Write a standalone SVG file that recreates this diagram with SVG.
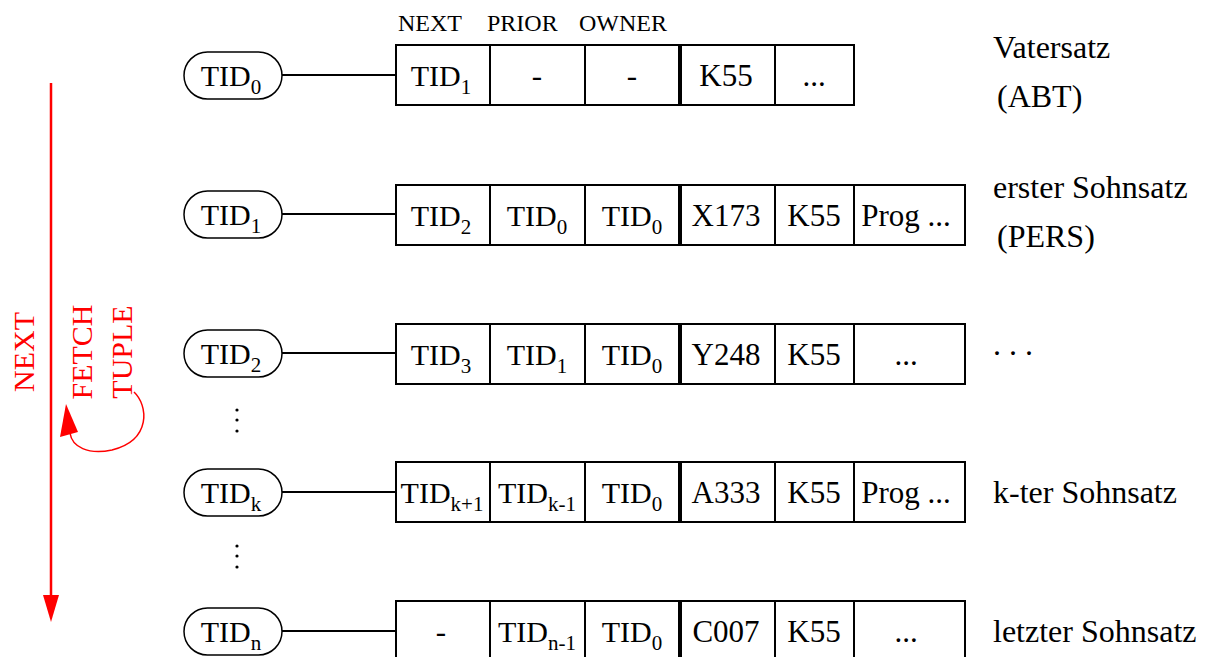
<svg xmlns="http://www.w3.org/2000/svg" width="1208" height="657" viewBox="0 0 1208 657">
<style>
text{font-family:"Liberation Serif","Times New Roman",serif;fill:#000}
.t{font-size:30px;text-anchor:middle}
.c{font-size:31px;text-anchor:middle}
.l{font-size:32px}
.r{font-size:30px;fill:#f00;text-anchor:middle}
.h{font-size:24px}
.s{font-size:21px}
.pill{fill:#fff;stroke:#000;stroke-width:1.5}
.box{fill:#fff;stroke:#000;stroke-width:2}
.div{stroke:#000;stroke-width:2}
.thick{stroke:#000;stroke-width:4}
.con{stroke:#000;stroke-width:2;fill:none}
.red{fill:#f00}
.redl{stroke:#f00;fill:none}
</style>
<rect width="1208" height="657" fill="#fff"/>

<g id="header">
<text class="h" x="398" y="31">NEXT</text>
<text class="h" x="487" y="31">PRIOR</text>
<text class="h" x="579" y="31">OWNER</text>
</g>

<g id="connectors">
<line class="con" x1="282" y1="75" x2="396" y2="75"/>
<line class="con" x1="282" y1="214" x2="396" y2="214"/>
<line class="con" x1="282" y1="353" x2="396" y2="353"/>
<line class="con" x1="282" y1="492" x2="396" y2="492"/>
<line class="con" x1="282" y1="631" x2="396" y2="631"/>
</g>

<g id="pill0"><rect class="pill" x="184" y="52" width="98" height="47" rx="23.5"/><text class="t" x="231" y="86">TID<tspan class="s" dy="8">0</tspan></text></g>
<g id="pill1"><rect class="pill" x="184" y="191" width="98" height="47" rx="23.5"/><text class="t" x="231" y="225">TID<tspan class="s" dy="8">1</tspan></text></g>
<g id="pill2"><rect class="pill" x="184" y="330" width="98" height="47" rx="23.5"/><text class="t" x="231" y="364">TID<tspan class="s" dy="8">2</tspan></text></g>
<g id="pillk"><rect class="pill" x="184" y="469" width="98" height="47" rx="23.5"/><text class="t" x="231" y="503">TID<tspan class="s" dy="8">k</tspan></text></g>
<g id="pilln"><rect class="pill" x="184" y="608" width="98" height="47" rx="23.5"/><text class="t" x="231" y="642">TID<tspan class="s" dy="8">n</tspan></text></g>

<g id="dots1" fill="#000"><circle cx="237" cy="410" r="1.6"/><circle cx="237" cy="420" r="1.6"/><circle cx="237" cy="431" r="1.6"/></g>
<g id="dots2" fill="#000"><circle cx="237" cy="546" r="1.6"/><circle cx="237" cy="556" r="1.6"/><circle cx="237" cy="567" r="1.6"/></g>

<g id="record0">
<rect class="box" x="396" y="45" width="458" height="60"/>
<line class="div" x1="490" y1="45" x2="490" y2="105"/>
<line class="div" x1="585" y1="45" x2="585" y2="105"/>
<line class="thick" x1="680" y1="45" x2="680" y2="106"/>
<line class="div" x1="775" y1="45" x2="775" y2="105"/>
<text class="t" x="441" y="86">TID<tspan class="s" dy="8">1</tspan></text>
<text class="c" x="537" y="86">-</text>
<text class="c" x="632" y="86">-</text>
<text class="c" x="726" y="86">K55</text>
<text class="c" x="814" y="86">...</text>
</g>

<g id="record1">
<rect class="box" x="396" y="185" width="569" height="60"/>
<line class="div" x1="490" y1="185" x2="490" y2="245"/>
<line class="div" x1="585" y1="185" x2="585" y2="245"/>
<line class="thick" x1="680" y1="185" x2="680" y2="246"/>
<line class="div" x1="775" y1="185" x2="775" y2="245"/>
<line class="div" x1="854" y1="185" x2="854" y2="245"/>
<text class="t" x="441" y="226">TID<tspan class="s" dy="8">2</tspan></text>
<text class="t" x="537" y="226">TID<tspan class="s" dy="8">0</tspan></text>
<text class="t" x="632" y="226">TID<tspan class="s" dy="8">0</tspan></text>
<text class="c" x="726" y="226">X173</text>
<text class="c" x="814" y="226">K55</text>
<text class="c" x="906" y="226">Prog ...</text>
</g>

<g id="record2">
<rect class="box" x="396" y="324" width="569" height="60"/>
<line class="div" x1="490" y1="324" x2="490" y2="384"/>
<line class="div" x1="585" y1="324" x2="585" y2="384"/>
<line class="thick" x1="680" y1="324" x2="680" y2="385"/>
<line class="div" x1="775" y1="324" x2="775" y2="384"/>
<line class="div" x1="854" y1="324" x2="854" y2="384"/>
<text class="t" x="441" y="365">TID<tspan class="s" dy="8">3</tspan></text>
<text class="t" x="537" y="365">TID<tspan class="s" dy="8">1</tspan></text>
<text class="t" x="632" y="365">TID<tspan class="s" dy="8">0</tspan></text>
<text class="c" x="726" y="365">Y248</text>
<text class="c" x="814" y="365">K55</text>
<text class="c" x="906" y="365">...</text>
</g>

<g id="recordk">
<rect class="box" x="396" y="462" width="569" height="60"/>
<line class="div" x1="490" y1="462" x2="490" y2="522"/>
<line class="div" x1="585" y1="462" x2="585" y2="522"/>
<line class="thick" x1="680" y1="462" x2="680" y2="523"/>
<line class="div" x1="775" y1="462" x2="775" y2="522"/>
<line class="div" x1="854" y1="462" x2="854" y2="522"/>
<text class="t" x="442" y="503">TID<tspan class="s" dy="8">k+1</tspan></text>
<text class="t" x="537" y="503">TID<tspan class="s" dy="8">k-1</tspan></text>
<text class="t" x="632" y="503">TID<tspan class="s" dy="8">0</tspan></text>
<text class="c" x="726" y="503">A333</text>
<text class="c" x="814" y="503">K55</text>
<text class="c" x="906" y="503">Prog ...</text>
</g>

<g id="recordn">
<rect class="box" x="396" y="601" width="569" height="62"/>
<line class="div" x1="490" y1="601" x2="490" y2="663"/>
<line class="div" x1="585" y1="601" x2="585" y2="663"/>
<line class="thick" x1="680" y1="601" x2="680" y2="663"/>
<line class="div" x1="775" y1="601" x2="775" y2="663"/>
<line class="div" x1="854" y1="601" x2="854" y2="663"/>
<text class="c" x="441" y="642">-</text>
<text class="t" x="537" y="642">TID<tspan class="s" dy="8">n-1</tspan></text>
<text class="t" x="632" y="642">TID<tspan class="s" dy="8">0</tspan></text>
<text class="c" x="726" y="642">C007</text>
<text class="c" x="814" y="642">K55</text>
<text class="c" x="906" y="642">...</text>
</g>

<g id="labels">
<text class="l" x="993" y="58">Vatersatz</text>
<text class="l" x="997" y="107">(ABT)</text>
<text class="l" x="993" y="198">erster Sohnsatz</text>
<text class="l" x="997" y="247">(PERS)</text>
<text class="l" x="993" y="355">. . .</text>
<text class="l" x="993" y="503">k-ter Sohnsatz</text>
<text class="l" x="993" y="642">letzter Sohnsatz</text>
</g>

<g id="next-arrow">
<line class="redl" x1="51" y1="83" x2="51" y2="600" stroke-width="2.5"/>
<polygon class="red" points="43,595 59,595 51,622"/>
<text class="r" transform="translate(34,352) rotate(-90)">NEXT</text>
</g>

<g id="fetch-tuple">
<text class="r" transform="translate(92,352) rotate(-90)">FETCH</text>
<text class="r" transform="translate(132,352) rotate(-90)">TUPLE</text>
<path class="redl" stroke-width="1.5" d="M134,392 C148,405 152,440 112,450 C88,455 72,447 70,433"/>
<polygon class="red" points="66,404 60,437 78,432"/>
</g>
</svg>
